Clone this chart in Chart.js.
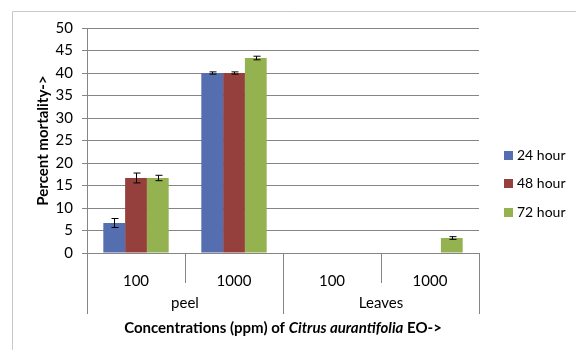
<!DOCTYPE html>
<html>
<head>
<meta charset="utf-8">
<script src="https://cdn.jsdelivr.net/npm/chart.js@4.4.1/dist/chart.umd.min.js"></script>
<style>
  html, body { margin: 0; padding: 0; background: #fff; }
  #wrap { width: 576px; height: 350px; }
</style>
</head>
<body>
<div id="wrap"><canvas id="myChart" width="576" height="350"></canvas></div>
<script>
const concentrations = ["100", "1000", "100", "1000"];
const groups = ["peel", "Leaves"];
const seriesNames = ["24 hour", "48 hour", "72 hour"];
const mortality24 = [6.67, 40, 0, 0];
const mortality48 = [16.67, 40, 0, 0];
const mortality72 = [16.67, 43.33, 0, 3.33];
const error24 = [1, 0.25, 0, 0];
const error48 = [1.1, 0.25, 0, 0];
const error72 = [0.6, 0.4, 0, 0.3];
const yTicks = [0, 5, 10, 15, 20, 25, 30, 35, 40, 45, 50];

const colors = ["#546EAF", "#96403E", "#94B250"];
const fontFamily = "Lato, 'Liberation Sans', sans-serif";
const gridGray = "#858585";

const frame = {
  id: "frame",
  beforeDraw(chart) {
    const ctx = chart.ctx;
    ctx.save();
    ctx.fillStyle = "#fff";
    ctx.fillRect(0, 0, chart.width, chart.height);
    ctx.strokeStyle = "#c8c8c8";
    ctx.lineWidth = 1;
    ctx.beginPath();
    ctx.moveTo(12.5, chart.height);
    ctx.lineTo(12.5, 11.5);
    ctx.lineTo(chart.width, 11.5);
    ctx.stroke();
    ctx.restore();
  }
};

const errorBars = {
  id: "errorBars",
  afterDatasetsDraw(chart) {
    const ctx = chart.ctx;
    const y = chart.scales.y;
    ctx.save();
    ctx.strokeStyle = "#000";
    ctx.lineWidth = 1;
    chart.data.datasets.forEach((ds, i) => {
      const meta = chart.getDatasetMeta(i);
      meta.data.forEach((bar, j) => {
        const err = ds.errors[j];
        if (!err) return;
        const x = Math.round(bar.x) + 0.5;
        const top = y.getPixelForValue(ds.data[j] + err);
        const bottom = y.getPixelForValue(ds.data[j] - err);
        ctx.beginPath();
        ctx.moveTo(x, top);
        ctx.lineTo(x, bottom);
        ctx.moveTo(x - 3, top);
        ctx.lineTo(x + 4, top);
        ctx.moveTo(x - 3, bottom);
        ctx.lineTo(x + 4, bottom);
        ctx.stroke();
      });
    });
    ctx.restore();
  }
};

const groupAxis = {
  id: "groupAxis",
  afterDraw(chart) {
    const ctx = chart.ctx;
    const x = chart.scales.x;
    const base = chart.chartArea.bottom;
    ctx.save();
    ctx.strokeStyle = gridGray;
    ctx.lineWidth = 1;
    // separators between concentrations and groups
    const edges = [x.left];
    for (let i = 0; i < concentrations.length - 1; i++) {
      edges.push((x.getPixelForValue(i) + x.getPixelForValue(i + 1)) / 2);
    }
    edges.push(x.right);
    edges.forEach((px, i) => {
      const long = i % 2 === 0;
      ctx.beginPath();
      ctx.moveTo(Math.round(px) + 0.5, base);
      ctx.lineTo(Math.round(px) + 0.5, base + (long ? 61 : 30));
      ctx.stroke();
    });
    ctx.fillStyle = "#000";
    ctx.textAlign = "center";
    ctx.textBaseline = "middle";
    ctx.font = "15px " + fontFamily;
    groups.forEach((g, i) => {
      const cx = (x.getPixelForValue(i * 2) + x.getPixelForValue(i * 2 + 1)) / 2;
      ctx.fillText(g, cx, base + 50);
    });
    // axis title with italic species name
    const parts = [
      ["bold 15px ", "Concentrations (ppm) of "],
      ["italic bold 15px ", "Citrus aurantifolia"],
      ["bold 15px ", " EO->"]
    ];
    let total = 0;
    parts.forEach(p => { ctx.font = p[0] + fontFamily; total += ctx.measureText(p[1]).width; });
    let tx = (x.left + x.right) / 2 - total / 2;
    ctx.textAlign = "left";
    parts.forEach(p => {
      ctx.font = p[0] + fontFamily;
      ctx.fillText(p[1], tx, base + 75);
      tx += ctx.measureText(p[1]).width;
    });
    // legend
    ctx.font = "14px " + fontFamily;
    seriesNames.forEach((name, i) => {
      const ly = 155 + i * 28.5;
      ctx.fillStyle = colors[i];
      ctx.fillRect(504, Math.round(ly - 4.5), 9, 9);
      ctx.fillStyle = "#000";
      ctx.fillText(name, 517, ly);
    });
    ctx.restore();
  }
};

const datasets = [mortality24, mortality48, mortality72].map((values, i) => ({
  label: seriesNames[i],
  data: values,
  errors: [error24, error48, error72][i],
  backgroundColor: colors[i],
  borderWidth: 0,
  categoryPercentage: 0.667,
  barPercentage: 1
}));

const config = {
  type: "bar",
  data: { labels: concentrations, datasets },
  options: {
    responsive: false,
    animation: false,
    layout: { padding: { top: 28, right: 97, left: 0, bottom: 0 } },
    plugins: { legend: { display: false }, tooltip: { enabled: false } },
    scales: {
      x: {
        grid: { display: false },
        border: { display: true, color: gridGray, width: 1 },
        ticks: { color: "#000", padding: 11, font: { family: fontFamily, size: 15 } },
        afterFit(scale) { scale.height = 97; }
      },
      y: {
        min: 0,
        max: 50,
        afterBuildTicks(scale) { scale.ticks = yTicks.map(v => ({ value: v })); },
        grid: { color: gridGray, lineWidth: 1, tickLength: 5 },
        border: { display: true, color: gridGray, width: 1 },
        ticks: { color: "#000", padding: 9, font: { family: fontFamily, size: 15 } },
        title: {
          display: true,
          text: "Percent mortality->",
          color: "#000",
          padding: { top: 34, bottom: 0 },
          font: { family: fontFamily, size: 15, weight: "bold" }
        },
        afterFit(scale) { scale.width = 87; }
      }
    }
  },
  plugins: [frame, errorBars, groupAxis]
};

const myChart = new Chart(document.getElementById("myChart"), config);
</script>
</body>
</html>
